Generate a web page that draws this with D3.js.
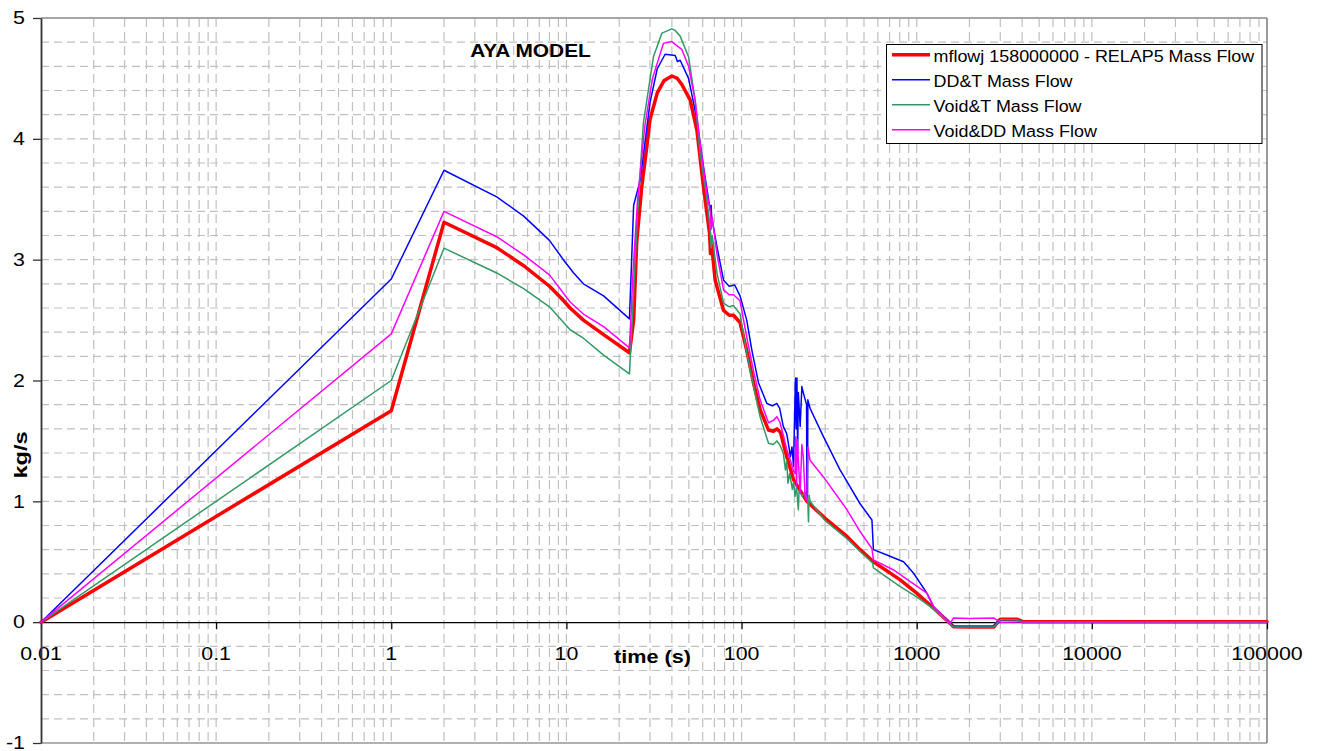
<!DOCTYPE html>
<html><head><meta charset="utf-8">
<script src="https://cdn.jsdelivr.net/npm/d3@7"></script>
<style>body{margin:0;background:#fff;} svg{display:block;} text{font-family:Arial,"Liberation Sans",sans-serif;fill:#000;}</style>
</head><body><svg id="c" width="1318" height="751"></svg>
<script>
// ---------- data ----------
const xTickValues = [0.01, 0.1, 1, 10, 100, 1000, 10000, 100000];
const xTickLabels = ["0.01", "0.1", "1", "10", "100", "1000", "10000", "100000"];
const yTickValues = [-1, 0, 1, 2, 3, 4, 5];
const yTickLabels = ["-1", "0", "1", "2", "3", "4", "5"];
const seriesNames = ["mflowj 158000000 - RELAP5 Mass Flow", "DD&T Mass Flow", "Void&T Mass Flow", "Void&DD Mass Flow"];

// [time s, kg/s]
const relap5 = [[0.01,0],[1,1.75],[2,3.31],[4,3.10],[5.7,2.95],[8,2.78],[9.5,2.67],[10.5,2.60],[12.5,2.50],[16.3,2.38],[22.9,2.23],[24.2,2.5],[25.2,3.15],[26.9,3.6],[28.8,3.94],[30,4.16],[33,4.38],[36,4.48],[40,4.52],[43,4.50],[45.6,4.45],[50.9,4.32],[55.6,4.07],[60.6,3.60],[65.6,3.22],[66.5,3.05],[67.5,3.12],[70.7,2.83],[78.9,2.58],[85,2.54],[90,2.54],[98,2.48],[107,2.25],[117,1.98],[127.6,1.76],[142.5,1.59],[152,1.58],[159,1.60],[167,1.57],[173,1.48],[181,1.37],[198,1.18],[216,1.09],[236,1.0],[300,0.86],[400,0.71],[475,0.60],[566,0.50],[805,0.35],[1000,0.24],[1248,0.115],[1553,-0.01],[1622,-0.037],[2000,-0.04],[2750,-0.04],[3000,0.025],[3730,0.025],[4074,0.003],[10000,0.004],[100000,0.004]];

const ddt = [[0.01,0],[1,2.84],[2,3.74],[4,3.52],[5.7,3.36],[8,3.16],[9.6,3.0],[11,2.89],[12.5,2.80],[16.3,2.70],[22.9,2.51],[24.2,3.45],[24.7,3.50],[26.4,3.66],[30,4.30],[33,4.58],[36.6,4.70],[41.8,4.69],[43,4.64],[44.6,4.65],[49.8,4.50],[55.6,4.16],[60.6,3.77],[66.2,3.41],[67,3.45],[67.5,3.35],[72.3,3.11],[78.9,2.83],[85,2.78],[91.4,2.79],[98,2.70],[107,2.50],[114.5,2.25],[125,1.98],[139.5,1.81],[150,1.79],[159,1.81],[165,1.77],[173,1.62],[181,1.56],[185,1.48],[190,1.37],[194,1.45],[198,1.29],[203,2.02],[205,1.60],[207,2.02],[209,1.40],[211,1.90],[216,1.62],[221,1.95],[225,1.90],[231,1.84],[235,1.80],[236,1.04],[238,1.02],[239,1.84],[246,1.77],[290,1.55],[365,1.26],[475,0.98],[555,0.846],[566,0.60],[676,0.556],[841,0.50],[960,0.405],[1143,0.24],[1248,0.128],[1553,-0.01],[1622,-0.035],[2750,-0.035],[3000,0.02],[3730,0.02],[4074,0.002],[100000,0.003]];

const voidT = [[0.01,0],[1,2.0],[2,3.095],[4,2.89],[5.7,2.76],[8,2.61],[10.5,2.42],[12.5,2.35],[16.3,2.21],[22.9,2.055],[24.5,2.9],[25.5,3.4],[27.5,4.13],[31.4,4.68],[35.1,4.875],[40,4.91],[41.5,4.90],[44.6,4.85],[49.8,4.68],[54.3,4.32],[58,3.88],[63.4,3.50],[66.2,3.25],[67,3.10],[68,3.20],[72.3,2.89],[78.9,2.64],[85,2.61],[90,2.62],[98,2.55],[107,2.23],[117,1.95],[127.6,1.70],[142.5,1.48],[152,1.47],[159,1.50],[165,1.47],[173,1.40],[178,1.26],[181,1.34],[184,1.15],[188,1.23],[195,1.10],[198,1.16],[202,1.04],[206,1.12],[211,0.93],[213,1.09],[222,1.04],[230,1.08],[236,1.03],[239,1.0],[241,0.83],[243,1.05],[246,1.0],[300,0.84],[400,0.69],[475,0.585],[560,0.49],[566,0.45],[805,0.295],[1000,0.21],[1248,0.11],[1553,-0.015],[1622,-0.04],[2750,-0.04],[3000,0.02],[3730,0.02],[4074,0.0],[100000,0.002]];

const voidDD = [[0.01,0],[1,2.386],[2,3.40],[4,3.19],[5.7,3.04],[8,2.874],[10.5,2.65],[12.5,2.55],[16.3,2.446],[22.9,2.27],[24,2.9],[25.5,3.5],[28,4.1],[31,4.5],[35.8,4.79],[40,4.805],[43.2,4.765],[45.6,4.74],[49.8,4.60],[54.3,4.32],[58,3.96],[63.4,3.55],[66.2,3.41],[67,3.25],[68,3.35],[72.3,3.05],[78.9,2.75],[85,2.71],[90,2.71],[98,2.66],[107,2.36],[117,2.08],[127.6,1.84],[142.5,1.65],[152,1.67],[159,1.70],[165,1.66],[173,1.55],[181,1.43],[190,1.34],[198,1.25],[202,1.23],[204,1.535],[206,1.12],[208,1.51],[216,1.067],[221,1.47],[225,1.37],[231,1.025],[236,1.01],[239,1.45],[246,1.34],[294,1.20],[400,0.93],[475,0.75],[555,0.61],[566,0.515],[738,0.432],[919,0.335],[1143,0.24],[1248,0.128],[1553,-0.01],[1622,0.035],[2000,0.03],[2750,0.035],[3000,0.0],[4074,0.002],[100000,0.004]];

const seriesData = [relap5, ddt, voidT, voidDD];

// ---------- styles ----------
const colors = ["#ff0000", "#0000ff", "#339966", "#ff00ff"];
const widths = [3.5, 1.5, 1.5, 1.5];

// ---------- layout ----------
const L = 41, R = 1267, T = 18, B = 743;
const svg = d3.select("#c");
const x = d3.scaleLog().domain([0.01, 100000]).range([L, R]);
const y = d3.scaleLinear().domain([-1, 5]).range([B, T]);

function txt(g, px, py, s, size, weight, anchor, sx, rot) {
  return g.append("text")
    .attr("transform", `translate(${px},${py})` + (rot ? ` rotate(${rot})` : "") + ` scale(${sx},1)`)
    .attr("text-anchor", anchor)
    .style("font-size", size + "px")
    .style("font-weight", weight)
    .text(s);
}

// grid
const grid = svg.append("g");
const hVals = d3.range(-0.8, 5, 0.2).map(v => +v.toFixed(1)).filter(v => Math.abs(v) > 1e-9 && v < 4.95);
grid.selectAll("line.h").data(hVals).join("line")
  .attr("x1", L).attr("x2", R).attr("y1", d => y(d)).attr("y2", d => y(d))
  .attr("stroke", "#c0c0c0").attr("stroke-width", 1.2).attr("stroke-dasharray", "8,5");
const vVals = [];
[0.01, 0.1, 1, 10, 100, 1000, 10000].forEach(d => { for (let k = 1; k <= 9; k++) { const v = k * d; if (v > 0.0100001) vVals.push(v); } });
grid.selectAll("line.v").data(vVals).join("line")
  .attr("x1", d => x(d)).attr("x2", d => x(d)).attr("y1", T).attr("y2", B)
  .attr("stroke", "#c0c0c0").attr("stroke-width", 1.2).attr("stroke-dasharray", "9,5");

// plot borders
svg.append("line").attr("x1", L).attr("x2", R).attr("y1", T).attr("y2", T).attr("stroke", "#a6a6a6").attr("stroke-width", 2);
svg.append("line").attr("x1", L).attr("x2", R).attr("y1", B).attr("y2", B).attr("stroke", "#b0b0b0").attr("stroke-width", 2);
svg.append("line").attr("x1", R).attr("x2", R).attr("y1", T).attr("y2", B).attr("stroke", "#7a7a7a").attr("stroke-width", 1.5);

// x axis at y=0
const xAxis = d3.axisBottom(x).tickValues(xTickValues).tickFormat((d, i) => xTickLabels[i]).tickSize(7).tickSizeOuter(0);
const gx = svg.append("g").attr("transform", `translate(0,${y(0)})`).call(xAxis);
gx.select(".domain").attr("stroke", "#000").attr("stroke-width", 1.2);
gx.selectAll(".tick line").attr("stroke", "#000").attr("stroke-width", 1.2);
gx.selectAll(".tick text").remove();
xTickValues.forEach((v, i) => txt(svg, x(v), 659.5, xTickLabels[i], 17.8, "normal", "middle", 1.2));

// y axis
const yAxis = d3.axisLeft(y).tickValues(yTickValues).tickFormat((d, i) => yTickLabels[i]).tickSize(8).tickSizeOuter(0);
const gy = svg.append("g").attr("transform", `translate(${L},0)`).call(yAxis);
gy.select(".domain").attr("stroke", "#333").attr("stroke-width", 1.8);
gy.selectAll(".tick line").attr("stroke", "#333").attr("stroke-width", 1.3);
gy.selectAll(".tick text").remove();
yTickValues.forEach((v, i) => txt(svg, 25, Math.min(y(v) + 6.3, 749), yTickLabels[i], 17.8, "normal", "end", 1.2));

// series
const line = d3.line().x(d => x(d[0])).y(d => y(d[1]));
seriesData.forEach((data, i) => {
  svg.append("path").datum(data).attr("d", line)
    .attr("fill", "none").attr("stroke", colors[i]).attr("stroke-width", widths[i])
    .attr("stroke-linejoin", "round").attr("stroke-linecap", "round");
});

// titles
txt(svg, 530.5, 56.5, "AYA MODEL", 18.5, "bold", "middle", 1.13);
txt(svg, 652.5, 663, "time (s)", 18, "bold", "middle", 1.2);
txt(svg, 27, 455, "kg/s", 17.5, "bold", "middle", 1.35, -90);

// legend
const lg = svg.append("g");
lg.append("rect").attr("x", 886.5).attr("y", 44.5).attr("width", 375.5).attr("height", 99)
  .attr("fill", "#fff").attr("stroke", "#000").attr("stroke-width", 1);
seriesNames.forEach((name, i) => {
  const by = 61.7 + i * 25;
  lg.append("line").attr("x1", 892).attr("x2", 930).attr("y1", by - 7).attr("y2", by - 7)
    .attr("stroke", colors[i]).attr("stroke-width", widths[i]);
  txt(lg, 933.5, by, name, 16.3, "normal", "start", 1.1);
});
</script>
</body></html>
